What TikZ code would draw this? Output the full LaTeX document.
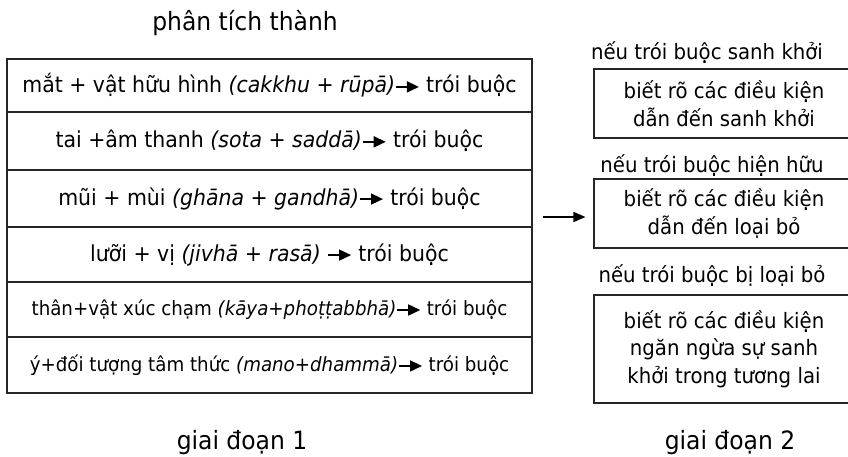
\documentclass[tikz,border=0pt]{standalone}
\usepackage{fontspec}
\setmainfont{DejaVu Sans}[FakeStretch=0.93]
\usetikzlibrary{arrows.meta}
\newcommand{\rarr}{\tikz[baseline=0pt]\draw[line width=1.6pt,-{Triangle[length=12pt,width=11pt]}] (0,0.27em)--(23pt,0.27em);}
\tikzset{
  rowbox/.style={draw=black!85,line width=1.1pt,minimum width=525pt,inner sep=0pt,font=\fontsize{22}{26}\selectfont},
  smallrow/.style={rowbox,font=\fontsize{19.6}{23}\selectfont},
  rbox/.style={draw=black!85,line width=1.1pt,minimum width=260pt,inner sep=0pt,align=center,font=\fontsize{21.2}{27.5}\selectfont},
  lbl/.style={inner sep=0pt,font=\fontsize{21.2}{25}\selectfont},
  big/.style={inner sep=0pt,font=\fontsize{25.2}{29}\selectfont},
}
\begin{document}
\begin{tikzpicture}[x=1pt,y=-1pt]
\useasboundingbox (0,0) rectangle (848,457);
\clip (0,0) rectangle (848,457);
\node[big] (title) at (245,23) {phân tích thành};
\node[rowbox,minimum height=53pt] (r1) at (269.5,85.5) {mắt + vật hữu hình \textit{(cakkhu + rūpā)}\rarr\ trói buộc};
\node[rowbox,minimum height=58pt] (r2) at (269.5,141) {tai +âm thanh \textit{(sota + saddā)}\rarr\ trói buộc};
\node[rowbox,minimum height=57pt] (r3) at (269.5,198.5) {mũi + mùi \textit{(ghāna + gandhā)}\rarr\ trói buộc};
\node[rowbox,minimum height=55pt] (r4) at (269.5,254.5) {lưỡi + vị \textit{(jivhā + rasā)} \rarr\ trói buộc};
\node[smallrow,minimum height=55pt] (r5) at (269.5,309.5) {thân+vật xúc chạm \textit{(kāya+phoṭṭabbhā)}\rarr\ trói buộc};
\node[smallrow,minimum height=56pt] (r6) at (269.5,365) {ý+đối tượng tâm thức \textit{(mano+dhammā)}\rarr\ trói buộc};
\node[big] (g1) at (242,443) {giai đoạn 1};
\node[lbl] (l1) at (707,52) {nếu trói buộc sanh khởi};
\node[rbox,minimum height=69pt] (b1) at (724,103.5) {biết rõ các điều kiện\\dẫn đến sanh khởi};
\node[lbl] (l2) at (712,165) {nếu trói buộc hiện hữu};
\node[rbox,minimum height=69pt] (b2) at (724,213.5) {biết rõ các điều kiện\\dẫn đến loại bỏ};
\node[lbl] (l3) at (712,275) {nếu trói buộc bị loại bỏ};
\node[rbox,minimum height=108pt] (b3) at (724,349) {biết rõ các điều kiện\\ngăn ngừa sự sanh\\khởi trong tương lai};
\node[big] (g2) at (730,443) {giai đoạn 2};
\coordinate (a0) at (543,217);
\draw[line width=1.3pt,shorten >=8pt,-{Triangle[length=12pt,width=10pt]}] (a0) -- (a0 -| b2.west);
\end{tikzpicture}
\end{document}
